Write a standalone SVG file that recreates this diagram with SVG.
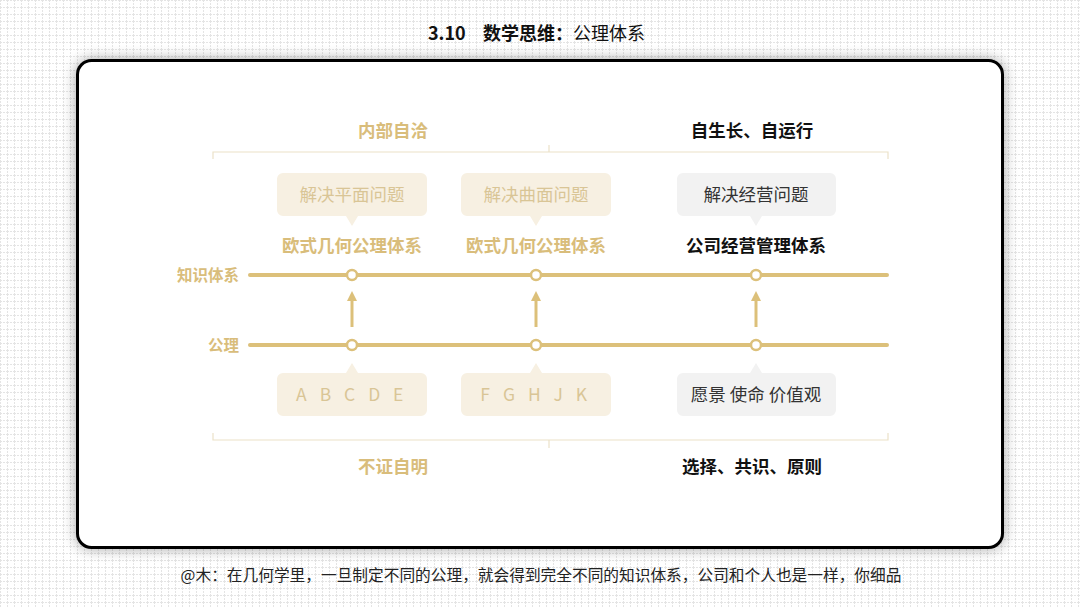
<svg xmlns="http://www.w3.org/2000/svg" width="1080" height="608" viewBox="0 0 1080 608">
<defs>
<pattern id="grid" width="7" height="7" patternUnits="userSpaceOnUse">
<rect width="7" height="7" fill="#ffffff"/>
<path d="M0 0.5H7M0.5 0V7" stroke="#e4e4e4" stroke-width="1" stroke-dasharray="2 1" fill="none"/>
</pattern>
<filter id="sh" x="-10%" y="-10%" width="120%" height="120%">
<feGaussianBlur in="SourceAlpha" stdDeviation="7"/>
<feComponentTransfer><feFuncA type="linear" slope="0.35"/></feComponentTransfer>
<feMerge><feMergeNode/><feMergeNode in="SourceGraphic"/></feMerge>
</filter>
<marker id="ah" viewBox="0 0 10 10" refX="3" refY="5" markerWidth="10" markerHeight="10" markerUnits="userSpaceOnUse" orient="auto">
<path d="M0 0 L10 5 L0 10 Z" fill="#dcc07a"/>
</marker>
<style>
text{font-family:"Noto Sans CJK SC","Noto Sans",sans-serif;}
.gb{fill:#d9bd7b;font-weight:bold;font-size:17.5px;}
.kb{fill:#111;font-weight:bold;font-size:17.5px;}
.side{fill:#d9bd7b;font-weight:bold;font-size:15.5px;text-anchor:end;}
.axis{stroke:#dcc07a;stroke-width:4;stroke-linecap:round;fill:none;}
.dot{fill:#fff;stroke:#dcc07a;stroke-width:2.5;}
.arr{stroke:#dcc07a;stroke-width:3;fill:none;}
.brk{stroke:#ece2c8;stroke-width:1.2;fill:none;}
.bg{fill:#f7f0e2;}
.bgg{fill:#f2f2f2;}
.bt{fill:#d9c596;font-size:17.5px;}
.btk{fill:#333;font-size:17.5px;}
</style>
</defs>
<rect width="1080" height="608" fill="url(#grid)"/>
<text y="40" font-size="18" fill="#111"><tspan x="428" font-weight="bold">3.10</tspan><tspan x="483" font-weight="bold">数学思维：</tspan><tspan>公理体系</tspan></text>
<rect x="77.5" y="60.5" width="925" height="487" rx="14" fill="#fff" stroke="#000" stroke-width="3" filter="url(#sh)"/>

<g id="brackets">
<path class="brk" d="M213 159V152H888V159M549 152V145"/>
<path class="brk" d="M213 433V440H888V433M549 440V448"/>
</g>
<g id="headers">
<text class="gb" x="393" y="137" text-anchor="middle">内部自洽</text>
<text class="kb" x="752" y="137" text-anchor="middle">自生长、自运行</text>
<text class="gb" x="393" y="473" text-anchor="middle">不证自明</text>
<text class="kb" x="752" y="473" text-anchor="middle">选择、共识、原则</text>
</g>

<g id="connectors">
<line class="axis" x1="250" y1="275" x2="887" y2="275"/>
<line class="axis" x1="250" y1="345" x2="887" y2="345"/>
<line class="arr" x1="352" y1="327" x2="352" y2="298" marker-end="url(#ah)"/>
<line class="arr" x1="536" y1="327" x2="536" y2="298" marker-end="url(#ah)"/>
<line class="arr" x1="756" y1="327" x2="756" y2="298" marker-end="url(#ah)"/>
</g>
<text class="side" x="239" y="281">知识体系</text>
<text class="side" x="239" y="351">公理</text>

<g id="node1">
<path class="bg" d="M283 173H421A6 6 0 0 1 427 179V210A6 6 0 0 1 421 216H358L352 226L346 216H283A6 6 0 0 1 277 210V179A6 6 0 0 1 283 173Z"/>
<text class="bt" x="352" y="201" text-anchor="middle">解决平面问题</text>
<text class="gb" x="352" y="252" text-anchor="middle">欧式几何公理体系</text>
<circle class="dot" cx="352" cy="275" r="5"/>
<circle class="dot" cx="352" cy="345" r="5"/>
<path class="bg" d="M283 373H346L352 363L358 373H421A6 6 0 0 1 427 379V410A6 6 0 0 1 421 416H283A6 6 0 0 1 277 410V379A6 6 0 0 1 283 373Z"/>
<text class="bt" x="352" y="401" text-anchor="middle" letter-spacing="4.5">A B C D E</text>
</g>

<g id="node2">
<path class="bg" d="M467 173H605A6 6 0 0 1 611 179V210A6 6 0 0 1 605 216H542L536 226L530 216H467A6 6 0 0 1 461 210V179A6 6 0 0 1 467 173Z"/>
<text class="bt" x="536" y="201" text-anchor="middle">解决曲面问题</text>
<text class="gb" x="536" y="252" text-anchor="middle">欧式几何公理体系</text>
<circle class="dot" cx="536" cy="275" r="5"/>
<circle class="dot" cx="536" cy="345" r="5"/>
<path class="bg" d="M467 373H530L536 363L542 373H605A6 6 0 0 1 611 379V410A6 6 0 0 1 605 416H467A6 6 0 0 1 461 410V379A6 6 0 0 1 467 373Z"/>
<text class="bt" x="536" y="401" text-anchor="middle" letter-spacing="4.5">F G H J K</text>
</g>

<g id="node3">
<path class="bgg" d="M683 173H830A6 6 0 0 1 836 179V210A6 6 0 0 1 830 216H762L756 226L750 216H683A6 6 0 0 1 677 210V179A6 6 0 0 1 683 173Z"/>
<text class="btk" x="756" y="201" text-anchor="middle">解决经营问题</text>
<text class="kb" x="756" y="252" text-anchor="middle">公司经营管理体系</text>
<circle class="dot" cx="756" cy="275" r="5"/>
<circle class="dot" cx="756" cy="345" r="5"/>
<path class="bgg" d="M683 373H750L756 363L762 373H830A6 6 0 0 1 836 379V410A6 6 0 0 1 830 416H683A6 6 0 0 1 677 410V379A6 6 0 0 1 683 373Z"/>
<text class="btk" x="756" y="401" text-anchor="middle">愿景 使命 价值观</text>
</g>

<text x="541" y="581" text-anchor="middle" font-size="15.7" fill="#222">@木：在几何学里，一旦制定不同的公理，就会得到完全不同的知识体系，公司和个人也是一样，你细品</text>
</svg>
